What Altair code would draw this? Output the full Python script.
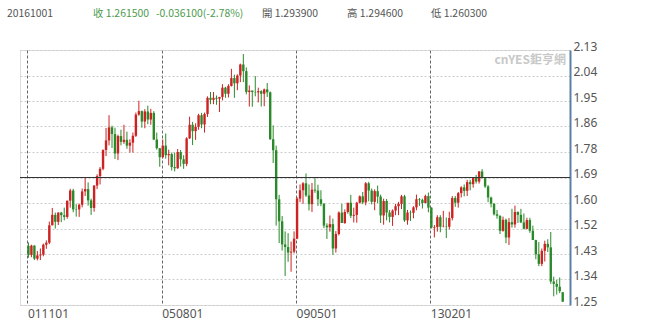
import altair as alt
import pandas as pd

# GBP/USD style monthly candles, 2001-11 .. 2016-10
opens = [1.4540, 1.4230,
 1.4550, 1.4100, 1.4210, 1.4240, 1.4580, 1.4650, 1.5250, 1.5610, 1.5370, 1.5690, 1.5600, 1.5540,
 1.6100, 1.6450, 1.5800, 1.5800, 1.5960, 1.6420, 1.6500, 1.6110, 1.5850, 1.6620, 1.6950, 1.7200,
 1.7850, 1.8180, 1.8630, 1.8400, 1.7730, 1.8330, 1.8130, 1.8200, 1.8000, 1.8100, 1.8340, 1.9070,
 1.9190, 1.8830, 1.9180, 1.8900, 1.9130, 1.8210, 1.7910, 1.7600, 1.8000, 1.7670, 1.7710, 1.7260,
 1.7220, 1.7780, 1.7530, 1.7370, 1.8250, 1.8720, 1.8500, 1.8650, 1.9050, 1.8730, 1.9090, 1.9650,
 1.9580, 1.9650, 1.9620, 1.9680, 2.0000, 1.9790, 2.0060, 2.0330, 2.0150, 2.0420, 2.0800, 2.0570,
 1.9850, 1.9900, 1.9850, 1.9840, 1.9880, 1.9790, 1.9940, 1.9840, 1.8220, 1.7840, 1.6150, 1.5390,
 1.4590, 1.4500, 1.4310, 1.4340, 1.4790, 1.6170, 1.6460, 1.6700, 1.6280, 1.5980, 1.6480, 1.6450,
 1.6150, 1.5990, 1.5240, 1.5180, 1.5290, 1.4450, 1.4950, 1.5690, 1.5330, 1.5710, 1.6030, 1.5580,
 1.5610, 1.6030, 1.6250, 1.6040, 1.6700, 1.6450, 1.6060, 1.6430, 1.6240, 1.5590, 1.6090, 1.5690,
 1.5540, 1.5760, 1.5910, 1.5990, 1.6250, 1.5420, 1.5690, 1.5680, 1.5870, 1.6150, 1.6130, 1.6020,
 1.6260, 1.5860, 1.5170, 1.5190, 1.5530, 1.5200, 1.5210, 1.5200, 1.5500, 1.6190, 1.6030, 1.6360,
 1.6560, 1.6440, 1.6740, 1.6670, 1.6880, 1.6760, 1.7110, 1.6880, 1.6590, 1.6210, 1.6000, 1.5630,
 1.5580, 1.5060, 1.5440, 1.4830, 1.5360, 1.5280, 1.5710, 1.5610, 1.5350, 1.5130, 1.5430, 1.5060,
 1.4740, 1.4250, 1.3920, 1.4370, 1.4610, 1.4490, 1.3310, 1.3230, 1.3130, 1.2939]

highs = [1.4660, 1.4580,
 1.4560, 1.4360, 1.4450, 1.4620, 1.4730, 1.5380, 1.5850, 1.5690, 1.5700, 1.5710, 1.5860, 1.6100,
 1.6510, 1.6510, 1.5980, 1.6000, 1.6520, 1.6900, 1.6730, 1.6170, 1.6640, 1.7010, 1.7260, 1.7870,
 1.8610, 1.9050, 1.8690, 1.8620, 1.8380, 1.8550, 1.8720, 1.8480, 1.8220, 1.8450, 1.9140, 1.9550,
 1.9210, 1.9260, 1.9380, 1.9270, 1.9190, 1.8450, 1.7920, 1.8210, 1.8420, 1.7860, 1.7760, 1.7760,
 1.7880, 1.7850, 1.7670, 1.8290, 1.9000, 1.8820, 1.8770, 1.9100, 1.9130, 1.9140, 1.9700, 1.9850,
 1.9850, 1.9730, 1.9680, 2.0120, 2.0030, 2.0120, 2.0650, 2.0450, 2.0460, 2.0830, 2.1160, 2.0700,
 2.0080, 1.9900, 2.0400, 2.0000, 1.9910, 1.9970, 2.0160, 1.9870, 1.8700, 1.8000, 1.6300, 1.5570,
 1.5040, 1.4980, 1.4690, 1.5040, 1.6220, 1.6660, 1.6740, 1.7040, 1.6660, 1.6710, 1.6880, 1.6650,
 1.6460, 1.6020, 1.5320, 1.5590, 1.5480, 1.5050, 1.5730, 1.5990, 1.5800, 1.6020, 1.6300, 1.5860,
 1.6060, 1.6280, 1.6400, 1.6740, 1.6750, 1.6520, 1.6490, 1.6620, 1.6310, 1.6170, 1.6160, 1.5780,
 1.5800, 1.5990, 1.6060, 1.6300, 1.6300, 1.5780, 1.5760, 1.5910, 1.6310, 1.6190, 1.6170, 1.6310,
 1.6380, 1.5870, 1.5260, 1.5600, 1.5600, 1.5750, 1.5520, 1.5720, 1.6260, 1.6260, 1.6400, 1.6600,
 1.6660, 1.6820, 1.6820, 1.6900, 1.6990, 1.7110, 1.7190, 1.6910, 1.6640, 1.6240, 1.6000, 1.5780,
 1.5590, 1.5550, 1.5480, 1.5500, 1.5820, 1.5930, 1.5730, 1.5820, 1.5660, 1.5510, 1.5510, 1.5240,
 1.4750, 1.4670, 1.4450, 1.4720, 1.4770, 1.5020, 1.3480, 1.3370, 1.3450, 1.2946]

lows = [1.4130, 1.4150,
 1.4050, 1.4040, 1.4050, 1.4180, 1.4440, 1.4600, 1.5250, 1.5140, 1.5260, 1.5360, 1.5420, 1.5480,
 1.5860, 1.5700, 1.5550, 1.5540, 1.5870, 1.6260, 1.5930, 1.5610, 1.5720, 1.6500, 1.6660, 1.7150,
 1.7640, 1.8010, 1.7920, 1.7540, 1.7500, 1.8010, 1.8060, 1.7890, 1.7760, 1.7760, 1.8300, 1.9030,
 1.8620, 1.8600, 1.8740, 1.8720, 1.8190, 1.7860, 1.7270, 1.7560, 1.7550, 1.7320, 1.7140, 1.7110,
 1.7200, 1.7280, 1.7200, 1.7290, 1.8230, 1.8020, 1.8200, 1.8550, 1.8600, 1.8450, 1.8990, 1.9430,
 1.9430, 1.9410, 1.9160, 1.9560, 1.9650, 1.9660, 2.0040, 1.9650, 1.9910, 2.0190, 2.0190, 1.9770,
 1.9350, 1.9340, 1.9700, 1.9490, 1.9350, 1.9360, 1.9680, 1.8200, 1.7400, 1.5240, 1.4640, 1.4380,
 1.3500, 1.3990, 1.3650, 1.4280, 1.4770, 1.6050, 1.5990, 1.6230, 1.5760, 1.5710, 1.6370, 1.5920,
 1.5910, 1.5150, 1.4780, 1.5030, 1.4230, 1.4310, 1.4900, 1.5350, 1.5300, 1.5650, 1.5500, 1.5350,
 1.5340, 1.6000, 1.5980, 1.5940, 1.6080, 1.5970, 1.5770, 1.6020, 1.5330, 1.5270, 1.5420, 1.5350,
 1.5230, 1.5600, 1.5600, 1.5810, 1.5370, 1.5270, 1.5400, 1.5490, 1.5770, 1.5920, 1.5830, 1.6010,
 1.5700, 1.5140, 1.4830, 1.5030, 1.5010, 1.5180, 1.4810, 1.5110, 1.5420, 1.5890, 1.5860, 1.6210,
 1.6250, 1.6260, 1.6460, 1.6550, 1.6690, 1.6690, 1.6870, 1.6540, 1.6050, 1.5870, 1.5590, 1.5480,
 1.4950, 1.5030, 1.4630, 1.4570, 1.5170, 1.5170, 1.5330, 1.5330, 1.5110, 1.5110, 1.4990, 1.4740,
 1.4080, 1.3840, 1.3840, 1.4000, 1.4330, 1.3230, 1.2800, 1.2860, 1.2910, 1.2603]

closes = [1.4230, 1.4550,
 1.4100, 1.4210, 1.4240, 1.4580, 1.4650, 1.5250, 1.5610, 1.5370, 1.5690, 1.5600, 1.5540, 1.6100,
 1.6450, 1.5800, 1.5790, 1.5960, 1.6420, 1.6500, 1.6110, 1.5850, 1.6620, 1.6950, 1.7200, 1.7850,
 1.8180, 1.8630, 1.8400, 1.7730, 1.8330, 1.8130, 1.8200, 1.8000, 1.8100, 1.8340, 1.9070, 1.9190,
 1.8830, 1.9180, 1.8900, 1.9130, 1.8210, 1.7910, 1.7600, 1.8000, 1.7670, 1.7710, 1.7260, 1.7220,
 1.7780, 1.7530, 1.7370, 1.8250, 1.8720, 1.8500, 1.8650, 1.9050, 1.8730, 1.9090, 1.9650, 1.9580,
 1.9650, 1.9620, 1.9680, 2.0000, 1.9790, 2.0060, 2.0330, 2.0150, 2.0420, 2.0800, 2.0570, 1.9850,
 1.9900, 1.9850, 1.9840, 1.9880, 1.9790, 1.9940, 1.9840, 1.8220, 1.7840, 1.6150, 1.5390, 1.4590,
 1.4500, 1.4310, 1.4340, 1.4790, 1.6170, 1.6460, 1.6700, 1.6280, 1.5980, 1.6480, 1.6450, 1.6150,
 1.5990, 1.5240, 1.5180, 1.5290, 1.4450, 1.4950, 1.5690, 1.5330, 1.5710, 1.6030, 1.5580, 1.5610,
 1.6030, 1.6250, 1.6040, 1.6700, 1.6450, 1.6060, 1.6430, 1.6240, 1.5590, 1.6090, 1.5690, 1.5540,
 1.5760, 1.5910, 1.5990, 1.6250, 1.5420, 1.5690, 1.5680, 1.5870, 1.6150, 1.6130, 1.6020, 1.6260,
 1.5860, 1.5170, 1.5190, 1.5530, 1.5200, 1.5210, 1.5200, 1.5500, 1.6190, 1.6030, 1.6360, 1.6560,
 1.6440, 1.6740, 1.6670, 1.6880, 1.6760, 1.7110, 1.6880, 1.6590, 1.6210, 1.6000, 1.5630, 1.5580,
 1.5060, 1.5440, 1.4830, 1.5360, 1.5280, 1.5710, 1.5610, 1.5350, 1.5130, 1.5430, 1.5060, 1.4740,
 1.4250, 1.3920, 1.4370, 1.4610, 1.4490, 1.3310, 1.3230, 1.3130, 1.2976, 1.2615]

date_label_index = [0, 45, 90, 135]
date_labels = ["011101", "050801", "090501", "130201"]

y_tick_labels = ["1.25", "1.34", "1.43", "1.52", "1.60", "1.69",
                 "1.78", "1.86", "1.95", "2.04", "2.13"]
y_min, y_max = 1.25, 2.13
mid_line = 1.69

header_texts = ["20161001", "收 1.261500", "-0.036100(-2.78%)",
                "開 1.293900", "高 1.294600", "低 1.260300"]
header_colors = ["#555555", "#4c9a4c", "#4c9a4c", "#555555", "#555555", "#555555"]
header_x = [7, 93, 156, 262, 347, 431]

UP, DOWN = "#cc2222", "#2a8a2a"
FONT = "Noto Sans"

n = len(closes)
df = pd.DataFrame({
    "i": list(range(n)), "o": opens, "h": highs, "l": lows, "c": closes,
})
df["dir"] = ["up" if c >= o else "down" for o, c in zip(opens, closes)]

step = (y_max - y_min) / (len(y_tick_labels) - 1)
y_ticks = [y_min + k * step for k in range(len(y_tick_labels))]
y_label_expr = "[" + ",".join("'%s'" % s for s in y_tick_labels) + "][round((datum.value-%f)/%f)]" % (y_min, step)

x_tick_vals = [v - 0.35 for v in date_label_index]
x_label_expr = "{" + ",".join("'%d':'%s'" % (v, s) for v, s in zip(date_label_index, date_labels)) + "}[''+round(datum.value)]"

x_scale = alt.Scale(domain=[-1.15, 179.77], nice=False, zero=False)
y_scale = alt.Scale(domain=[y_min, y_max], nice=False, zero=False)
color = alt.Color("dir:N", scale=alt.Scale(domain=["up", "down"], range=[UP, DOWN]), legend=None)

x_enc = alt.X("i:Q", scale=x_scale, axis=alt.Axis(
    values=x_tick_vals, tickCount=20, grid=True, gridDash=[3, 2],
    gridColor="#666666", gridWidth=1,
    ticks=False, domain=False, labelAlign="left", labelBaseline="middle", labelPadding=8,
    labelFont=FONT, labelFontSize=12, labelColor="#555555", labelFlush=False,
    labelExpr=x_label_expr, title=None))

y_axis = alt.Axis(
    orient="right", values=y_ticks, tickCount=20, grid=True, gridDash=[2, 2],
    gridColor="#cccccc",
    ticks=False, domain=True, domainColor="#5b7ea4", domainWidth=2,
    labelExpr=y_label_expr, labelFont=FONT, labelFontSize=12, labelColor="#555555",
    labelBaseline="alphabetic", labelPadding=3, labelFlush=False, labelOverlap=False, title=None)

base = alt.Chart(df)

wicks = base.mark_rule(strokeWidth=1).encode(
    x=x_enc,
    y=alt.Y("l:Q", scale=y_scale, axis=y_axis),
    y2="h:Q",
    color=color,
)
bodies = base.mark_bar(size=2.4).encode(
    x="i:Q",
    y="o:Q",
    y2="c:Q",
    color=color,
)
mid = alt.Chart(pd.DataFrame({"v": [mid_line]})).mark_rule(color="#333333", strokeWidth=1).encode(
    y="v:Q")

watermark = alt.Chart(pd.DataFrame({"t": ["cnYES鉅亨網"]})).mark_text(
    align="right", baseline="middle", font="Noto Sans CJK TC", fontSize=12,
    fontWeight="bold", color="#c8c8c8").encode(
    x=alt.value(546), y=alt.value(10), text="t:N")

headers = []
for t, c, px in zip(header_texts, header_colors, header_x):
    headers.append(alt.Chart(pd.DataFrame({"t": [t]})).mark_text(
        align="left", baseline="middle", font="Noto Sans CJK TC", fontSize=10.4, color=c).encode(
        x=alt.value(px - 20), y=alt.value(14 - 50), text="t:N"))

chart = alt.layer(wicks, bodies, mid, watermark, *headers).properties(
    width=550, height=255,
    autosize=alt.AutoSizeParams(type="none"),
    padding={"left": 20, "top": 50, "right": 80, "bottom": 25},
).configure_view(stroke="#444444", strokeWidth=2).configure(background="white")

chart.save("out.html", embed_options={"renderer": "svg", "actions": False})
